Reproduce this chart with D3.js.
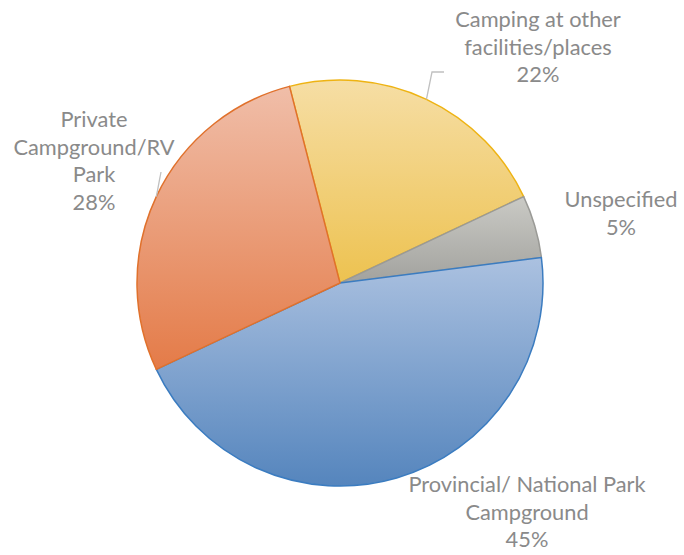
<!DOCTYPE html>
<html><head><meta charset="utf-8">
<script src="https://cdn.jsdelivr.net/npm/d3@7"></script>
<style>html,body{margin:0;padding:0;background:#fff;}</style>
</head><body>
<svg id="chart" width="684" height="555"></svg>
<script>
// ---- data ----
const categories = ["Camping at other facilities/places", "Unspecified", "Provincial/ National Park Campground", "Private Campground/RV Park"];
const values = [22, 5, 45, 28];
const labelLines = [
  ["Camping at other", "facilities/places"],
  ["Unspecified"],
  ["Provincial/ National Park", "Campground"],
  ["Private", "Campground/RV", "Park"]
];
const pctLabels = ["22%", "5%", "45%", "28%"];

// ---- layout / style ----
const W = 684, H = 555;
const cx = 340, cy = 283, R = 203;
const startA = -14.4 * Math.PI / 180;
const gradTop = ["#f6dea5", "#cacac5", "#abc1e0", "#f0bea9"];
const gradBot = ["#edc250", "#a2a29e", "#5585bd", "#e47b48"];
const strokes = ["#eeb313", "#9a9a96", "#3b7cc0", "#e0712c"];
// label block centers (x) and first baseline (y)
const labelAnchor = [[538, 27], [621, 207], [527, 492], [94, 127]];
const lineH = 27.5;
const leaders = {0: [[432, 72], [444, 72]], 3: [[161, 172]]};

const svg = d3.select("#chart");
const defs = svg.append("defs");
categories.forEach((c, i) => {
  const g = defs.append("linearGradient").attr("id", "g" + i)
    .attr("x1", 0).attr("y1", 0).attr("x2", 0).attr("y2", 1);
  g.append("stop").attr("offset", "0%").attr("stop-color", gradTop[i]);
  g.append("stop").attr("offset", "100%").attr("stop-color", gradBot[i]);
});

const pie = d3.pie().sort(null).value(d => d).startAngle(startA).endAngle(startA + 2 * Math.PI);
const arcs = pie(values);
const arc = d3.arc().innerRadius(0).outerRadius(R);

const gp = svg.append("g").attr("transform", `translate(${cx},${cy})`);
gp.selectAll("path").data(arcs).join("path")
  .attr("d", arc)
  .attr("fill", (d, i) => `url(#g${i})`)
  .attr("stroke", (d, i) => strokes[i])
  .attr("stroke-width", 1.5)
  .attr("stroke-linejoin", "round");

// leader lines
arcs.forEach((d, i) => {
  if (!leaders[i]) return;
  const mid = (d.startAngle + d.endAngle) / 2;
  const p0 = [cx + R * Math.sin(mid), cy - R * Math.cos(mid)];
  const pts = [p0, ...leaders[i]];
  svg.append("path")
    .attr("d", d3.line()(pts))
    .attr("fill", "none").attr("stroke", "#c0c0c0").attr("stroke-width", 1.3);
});

// labels
const font = "Lato, 'Open Sans', sans-serif";
categories.forEach((c, i) => {
  const lines = [...labelLines[i], pctLabels[i]];
  const t = svg.append("text")
    .attr("text-anchor", "middle")
    .attr("font-family", font)
    .attr("font-size", 21.8)
    .attr("fill", "#8a8a8a");
  lines.forEach((ln, k) => {
    t.append("tspan").attr("x", labelAnchor[i][0]).attr("y", labelAnchor[i][1] + k * lineH).text(ln);
  });
});
</script>
</body></html>
